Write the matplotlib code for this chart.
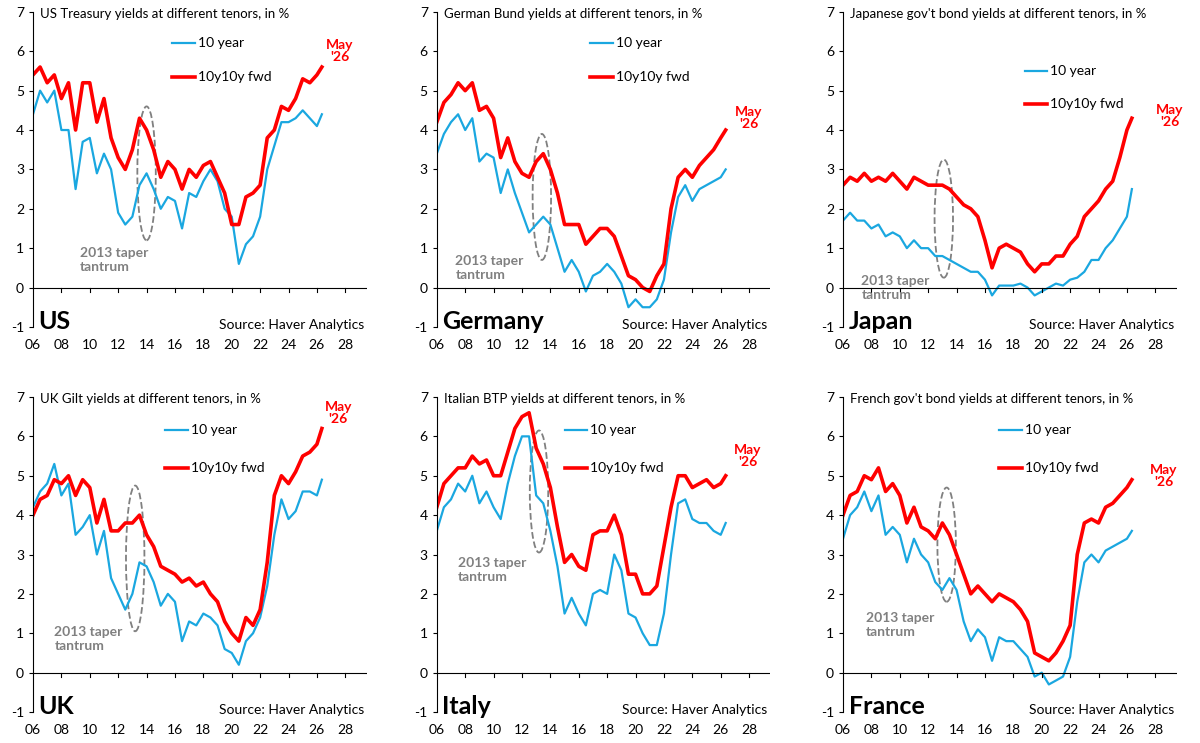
import numpy as np
import matplotlib.pyplot as plt
from matplotlib.patches import Ellipse

plt.rcParams['font.family'] = ['Lato', 'DejaVu Sans']
plt.rcParams['axes.unicode_minus'] = False

# half-year points 2006.0 .. 2026.0, last point ~ May 2026
x = list(np.arange(2006, 2026.01, 0.5)) + [2026.35]

us_10y = [4.4,5.0,4.7,5.0,4.0,4.0,2.5,3.7,3.8,2.9,3.4,3.0,1.9,1.6,1.8,2.6,2.9,2.5,2.0,2.3,2.2,1.5,2.4,2.3,2.7,3.0,2.7,2.0,1.8,0.6,1.1,1.3,1.8,3.0,3.6,4.2,4.2,4.3,4.5,4.3,4.1,4.4]
us_fwd = [5.4,5.6,5.2,5.4,4.8,5.2,4.0,5.2,5.2,4.2,4.8,3.8,3.3,3.0,3.5,4.3,4.0,3.5,2.8,3.2,3.0,2.5,3.0,2.8,3.1,3.2,2.8,2.4,1.6,1.6,2.3,2.4,2.6,3.8,4.0,4.6,4.5,4.8,5.3,5.2,5.4,5.6]
de_10y = [3.4,3.9,4.2,4.4,4.0,4.3,3.2,3.4,3.3,2.4,3.0,2.4,1.9,1.4,1.6,1.8,1.6,1.0,0.4,0.7,0.4,-0.1,0.3,0.4,0.6,0.4,0.1,-0.5,-0.3,-0.5,-0.5,-0.3,0.2,1.4,2.3,2.6,2.2,2.5,2.6,2.7,2.8,3.0]
de_fwd = [4.2,4.7,4.9,5.2,5.0,5.2,4.5,4.6,4.3,3.3,3.8,3.2,2.9,2.8,3.2,3.4,3.0,2.4,1.6,1.6,1.6,1.1,1.3,1.5,1.5,1.3,0.8,0.3,0.2,0.0,-0.1,0.3,0.6,2.0,2.8,3.0,2.8,3.1,3.3,3.5,3.8,4.0]
jp_10y = [1.7,1.9,1.7,1.7,1.5,1.6,1.3,1.4,1.3,1.0,1.2,1.0,1.0,0.8,0.8,0.7,0.6,0.5,0.4,0.4,0.2,-0.2,0.05,0.05,0.05,0.1,0.0,-0.2,-0.1,0.0,0.1,0.05,0.2,0.25,0.4,0.7,0.7,1.0,1.2,1.5,1.8,2.5]
jp_fwd = [2.6,2.8,2.7,2.9,2.7,2.8,2.7,2.9,2.7,2.5,2.8,2.7,2.6,2.6,2.6,2.5,2.3,2.1,2.0,1.8,1.2,0.5,1.0,1.1,1.0,0.9,0.6,0.4,0.6,0.6,0.8,0.8,1.1,1.3,1.8,2.0,2.2,2.5,2.7,3.3,4.0,4.3]
uk_10y = [4.2,4.6,4.8,5.3,4.5,4.8,3.5,3.7,4.0,3.0,3.6,2.4,2.0,1.6,2.0,2.8,2.7,2.3,1.7,2.0,1.8,0.8,1.3,1.2,1.5,1.4,1.2,0.6,0.5,0.2,0.8,1.0,1.4,2.2,3.5,4.4,3.9,4.1,4.6,4.6,4.5,4.9]
uk_fwd = [4.0,4.4,4.5,4.9,4.8,5.0,4.5,4.9,4.7,3.8,4.4,3.6,3.6,3.8,3.8,4.0,3.5,3.2,2.7,2.6,2.5,2.3,2.4,2.2,2.3,2.0,1.8,1.3,1.0,0.8,1.4,1.2,1.6,2.8,4.5,5.0,4.8,5.1,5.5,5.6,5.8,6.2]
it_10y = [3.6,4.2,4.4,4.8,4.6,5.0,4.3,4.6,4.2,3.9,4.8,5.5,6.0,6.0,4.5,4.3,3.6,2.7,1.5,1.9,1.5,1.2,2.0,2.1,2.0,3.0,2.6,1.5,1.4,1.0,0.7,0.7,1.5,3.0,4.3,4.4,3.9,3.8,3.8,3.6,3.5,3.8]
it_fwd = [4.2,4.8,5.0,5.2,5.2,5.5,5.3,5.4,5.0,5.0,5.6,6.2,6.5,6.6,5.7,5.3,4.7,3.7,2.8,3.0,2.7,2.6,3.5,3.6,3.6,4.0,3.5,2.5,2.5,2.0,2.0,2.2,3.2,4.2,5.0,5.0,4.7,4.8,4.9,4.7,4.8,5.0]
fr_10y = [3.4,4.0,4.2,4.6,4.1,4.5,3.5,3.7,3.5,2.8,3.4,3.0,2.8,2.3,2.1,2.4,2.1,1.3,0.8,1.1,0.9,0.3,0.9,0.8,0.8,0.6,0.4,-0.1,0.0,-0.3,-0.2,-0.1,0.4,1.8,2.8,3.0,2.8,3.1,3.2,3.3,3.4,3.6]
fr_fwd = [4.0,4.5,4.6,5.0,4.9,5.2,4.6,4.8,4.5,3.8,4.2,3.7,3.6,3.4,3.8,3.5,3.0,2.5,2.0,2.2,2.0,1.8,2.0,1.9,1.8,1.6,1.3,0.5,0.4,0.3,0.5,0.8,1.2,3.0,3.8,3.9,3.8,4.2,4.3,4.5,4.7,4.9]

titles = ["US Treasury yields at different tenors, in %", "German Bund yields at different tenors, in %",
          "Japanese gov't bond yields at different tenors, in %", "UK Gilt yields at different tenors, in %",
          "Italian BTP yields at different tenors, in %", "French gov't bond yields at different tenors, in %"]
countries = ["US", "Germany", "Japan", "UK", "Italy", "France"]
tenyear = [us_10y, de_10y, jp_10y, uk_10y, it_10y, fr_10y]
fwd = [us_fwd, de_fwd, jp_fwd, uk_fwd, it_fwd, fr_fwd]

# per-panel annotation placement
may_pos = [(2027.6, 6.0), (2028.0, 4.3), (2029.0, 4.35), (2027.5, 6.6), (2027.9, 5.5), (2028.6, 5.0)]
ell = [(2014.0, 2.9, 3.4), (2013.4, 2.3, 3.2), (2013.1, 1.75, 3.0), (2013.2, 2.9, 3.7), (2013.2, 4.6, 3.1), (2013.3, 3.25, 2.9)]
taper_pos = [(2009.3, 0.7), (2007.3, 0.5), (2007.3, 0.0), (2007.5, 0.85), (2007.5, 2.6), (2007.6, 1.2)]
leg_pos = [(2015.8, 6.2, 5.35), (2016.8, 6.2, 5.35), (2018.8, 5.5, 4.65),
           (2015.3, 6.15, 5.2), (2015.0, 6.15, 5.2), (2017.0, 6.15, 5.2)]

blue, red, gray = "#1AA7E0", "#FF0000", "#808080"

fig = plt.figure(figsize=(12, 7.43), dpi=100)
lefts = [0.0275, 0.364, 0.7025]
bottoms = [0.56, 0.0417]
for i in range(6):
    ax = fig.add_axes([lefts[i % 3], bottoms[i // 3], 0.278, 0.424])
    ax.plot(x, tenyear[i], color=blue, lw=1.6)
    ax.plot(x, fwd[i], color=red, lw=2.6)
    ax.set_xlim(2006, 2029.5)
    ax.set_ylim(-1, 7)
    for s in ["top", "right", "bottom"]:
        ax.spines[s].set_visible(False)
    ax.axhline(0, color="black", lw=0.8)
    for t in range(2008, 2030, 2):
        ax.plot([t, t], [0, -0.12], color="black", lw=0.8, clip_on=False)
    ax.set_xticks([])
    for t in range(2006, 2030, 2):
        ax.text(t, -1.45, f"{t % 100:02d}", ha="center", va="center", fontsize=10, clip_on=False)
    ax.set_yticks(range(-1, 8))
    ax.tick_params(axis="y", labelsize=10, length=3)
    ax.text(2006.5, 6.95, titles[i], fontsize=9.5, va="center")
    lx, ly1, ly2 = leg_pos[i]
    ax.plot([lx, lx + 1.6], [ly1, ly1], color=blue, lw=1.6)
    ax.text(lx + 1.8, ly1, "10 year", fontsize=10, va="center")
    ax.plot([lx, lx + 1.6], [ly2, ly2], color=red, lw=2.6)
    ax.text(lx + 1.8, ly2, "10y10y fwd", fontsize=10, va="center")
    mx, my = may_pos[i]
    ax.text(mx, my, "May\n'26", color=red, fontsize=10, fontweight="bold", ha="center", va="center",
            linespacing=1.0, clip_on=False)
    cx, cy, h = ell[i]
    ax.add_patch(Ellipse((cx, cy), 1.3, h, fill=False, ec=gray, ls="--", lw=1.3))
    tx, ty = taper_pos[i]
    ax.text(tx, ty, "2013 taper\ntantrum", color=gray, fontsize=10, fontweight="bold", va="center")
    ax.text(2006.4, -0.85, countries[i], fontsize=18, fontweight="bold", va="center")
    ax.text(2029.3, -0.95, "Source: Haver Analytics", fontsize=10, ha="right", va="center")

fig.savefig("out.png", dpi=100)
